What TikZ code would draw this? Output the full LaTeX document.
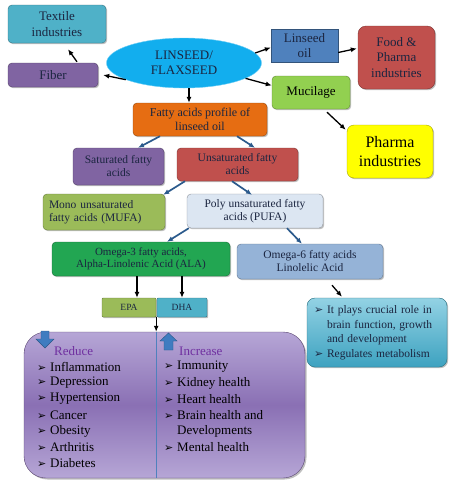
\documentclass[tikz,border=0pt]{standalone}
\usepackage{fontspec}
\setmainfont{Liberation Serif}
\newfontfamily\symfont{DejaVu Sans}
\usepackage{xcolor}
\usetikzlibrary{positioning,arrows.meta,shapes.geometric,calc,shadows}
\definecolor{inkdark}{HTML}{1B2540}
\definecolor{tealbox}{HTML}{4FB1C8}
\definecolor{purplebox}{HTML}{8064A2}
\definecolor{ellfill}{HTML}{12AEEE}
\definecolor{oilblue}{HTML}{4F81BD}
\definecolor{redbox}{HTML}{C0504D}
\definecolor{greenbox}{HTML}{92D050}
\definecolor{yellowbox}{HTML}{FFFF00}
\definecolor{orangebox}{HTML}{E66D12}
\definecolor{olivebox}{HTML}{9BBB59}
\definecolor{palebox}{HTML}{DCE6F2}
\definecolor{omegagreen}{HTML}{22A652}
\definecolor{omegablue}{HTML}{95B3D7}
\definecolor{infotop}{HTML}{93D2E4}
\definecolor{infobottom}{HTML}{3DA2C0}
\definecolor{lavtop}{HTML}{B6A6D6}
\definecolor{lavmid}{HTML}{8A70B4}
\definecolor{arrowblue}{HTML}{2B5A8C}
\definecolor{headpurple}{HTML}{7030A0}
\definecolor{iconblue}{HTML}{3F7CC0}
\newcommand{\bul}{\makebox[13pt][l]{\symfont\fontsize{11}{11}\selectfont\char"27A2}}
\newcommand{\nobul}{\hspace*{13pt}}

\begin{document}
\begin{tikzpicture}[x=1pt, y=-1pt,
    box/.style={draw=#1!65!black, fill=#1, rounded corners=4pt, align=center,
        inner sep=2pt, text=inkdark,
        drop shadow={shadow xshift=1.2pt, shadow yshift=-1.2pt, fill=black, opacity=0.25}},
    fs9/.style={font=\fontsize{9.5}{11}\selectfont},
    fs11/.style={font=\fontsize{11}{12.5}\selectfont},
    fs115/.style={font=\fontsize{11.5}{13}\selectfont},
    fs12/.style={font=\fontsize{12}{14}\selectfont},
    fs13/.style={font=\fontsize{13}{15.5}\selectfont},
    fs16/.style={font=\fontsize{16}{19}\selectfont},
    arr/.style={-{Latex[length=6pt,width=5pt]}, line width=1.3pt},
    barr/.style={arr, draw=arrowblue, line width=1.7pt},
    listitem/.style={anchor=west, inner sep=0pt, font=\fontsize{13}{15}\selectfont},
    headtext/.style={anchor=west, inner sep=0pt, text=headpurple, font=\fontsize{13}{15}\selectfont}]
    \useasboundingbox (0,0) rectangle (450,483);

    % top row
    \node[box=tealbox, minimum width=98, minimum height=38, fs13] (textile) at (57,24) {Textile\\industries};
    \node[box=purplebox, minimum width=90, minimum height=24, fs13] (fiber) at (53,75) {Fiber};
    \node[ellipse, draw=ellfill!60!white, fill=ellfill, minimum width=155, minimum height=50,
        inner sep=0pt, align=center, text=inkdark, fs13] (flax) at (184,63) {LINSEED/\\FLAXSEED};
    \node[box=oilblue, rounded corners=0pt, minimum width=67, minimum height=33, fs13] (oil) at (304.5,45.5) {Linseed\\oil};
    \node[box=redbox, rounded corners=8pt, minimum width=77, minimum height=63, fs13] (food) at (396.5,57.5) {Food \&\\Pharma\\industries};
    \node[box=greenbox, minimum width=78, minimum height=33, fs13, text=black] (mucil) at (311,92.5) {Mucilage};
    \node[box=yellowbox, rounded corners=7pt, minimum width=86, minimum height=53, fs16, text=black] (pharma) at (390,151.5) {Pharma\\industries};

    % fatty acids
    \node[box=orangebox, minimum width=134, minimum height=33, fs12] (fatty) at (200,119.5) {Fatty acids profile of\\linseed oil};
    \node[box=purplebox, minimum width=91, minimum height=37, fs115] (sat) at (118.5,166.5) {Saturated fatty\\acids};
    \node[box=redbox, minimum width=121, minimum height=33, fs115] (unsat) at (237.5,164.5) {Unsaturated fatty\\acids};
    \node[box=olivebox, minimum width=122, minimum height=36, text width=110, align=left, fs115] (mufa) at (104,212) {Mono unsaturated\\fatty acids (MUFA)};
    \node[box=palebox, minimum width=136, minimum height=34, fs115] (pufa) at (255,211) {Poly unsaturated fatty\\acids (PUFA)};
    \node[box=omegagreen, minimum width=178, minimum height=34, fs11] (omega3) at (141,259) {Omega-3 fatty acids,\\Alpha-Linolenic Acid (ALA)};
    \node[box=omegablue, minimum width=146, minimum height=35, fs115] (omega6) at (310,261.5) {Omega-6 fatty acids\\Linolelic Acid};
    \node[box=olivebox, rounded corners=1pt, minimum width=54, minimum height=19, fs9] (epa) at (129,307.5) {EPA};
    \node[box=tealbox, rounded corners=1pt, minimum width=50, minimum height=19, fs9] (dha) at (182,307.5) {DHA};

    % info box
    \node[box=tealbox, top color=infotop, bottom color=infobottom, rounded corners=8pt,
        minimum width=140, minimum height=69, text width=126, align=left, inner sep=1pt,
        font=\fontsize{11.5}{14.5}\selectfont] (info) at (377,332.5)
        {\bul It plays crucial role in\\\nobul brain function, growth\\\nobul and development\\\bul Regulates metabolism};

    % health box
    \node[draw=purplebox!70!black, rounded corners=22pt, top color=lavtop, bottom color=lavtop, middle color=lavmid,
        minimum width=281, minimum height=146,
        drop shadow={shadow xshift=1.5pt, shadow yshift=-1.5pt, fill=black, opacity=0.25}] (health) at (164.5,405) {};
    \draw[oilblue, line width=0.8pt] (epa.south east |- health.north) -- (epa.south east |- health.south);
    \fill[iconblue, draw=iconblue!70!black] (41,331) -- (49,331) -- (49,339) -- (54,339) -- (45,348) -- (36,339) -- (41,339) -- cycle;
    \fill[iconblue, draw=iconblue!70!black] (168.5,333) -- (177,341) -- (173,341) -- (173,350) -- (164,350) -- (164,341) -- (160,341) -- cycle;
    \node[headtext] (reduce) at (54,351) {Reduce};
    \node[headtext] (increase) at (179,351) {Increase};
    \foreach \txt [count=\i] in {Inflammation,Depression,Hypertension,Cancer,Obesity,Arthritis,Diabetes}
        \node[listitem] (red\i) at (37,351+16*\i) {\bul\txt};
    \foreach \txt [count=\i] in {{\bul Immunity},{\bul Kidney health},{\bul Heart health},{\bul Brain health and},{\nobul Developments},{\bul Mental health}}
        \node[listitem] (inc\i) at (164,351+16*\i) {\txt};

    % connectors
    \draw[arr] ($(fiber.north)+(24,-1)$) -- ($(textile.south)+(11,6)$);
    \draw[arr] (flax.196) -- ($(fiber.east)+(5,0)$);
    \draw[arr] (flax.8) -- ($(oil.west)+(0,2)$);
    \draw[arr] (flax.-14) -- ($(mucil.west)+(0,-7)$);
    \draw[arr] ($(oil.east)+(0,7)$) -- ($(food.west)+(-1,-9)$);
    \draw[arr] ($(mucil.south)+(16,3)$) -- ($(pharma.north west)+(-1,5)$);
    \draw[arr] ($(flax.south)+(5,0)$) -- ($(fatty.north)+(-11,0)$);
    \draw[barr] ($(fatty.south)+(-40,0)$) -- ($(sat.north)+(19.5,0)$);
    \draw[barr] ($(fatty.south)+(37,0)$) -- ($(unsat.north)+(17.5,0)$);
    \draw[barr] ($(unsat.south)+(-52.5,0)$) -- ($(mufa.north east)+(-2,1)$);
    \draw[barr] ($(unsat.south)+(-5.5,0)$) -- ($(pufa.north)+(-3,1)$);
    \draw[barr] ($(pufa.south west)+(2,0)$) -- ($(omega3.north)+(26,0)$);
    \draw[barr] ($(pufa.south)+(32,0)$) -- ($(omega6.north)+(-8,0)$);
    \draw[arr] ($(omega3.south)+(-4,0)$) -- ($(epa.north)+(8,0)$);
    \draw[arr] ($(omega3.south)+(41,0)$) -- (dha.north);
    \draw[arr] (epa.south east) -- (epa.south east |- health.north);
    \draw[arr] ($(omega6.south)+(22,6)$) -- ($(info.north)+(-35,-1)$);
\end{tikzpicture}
\end{document}
